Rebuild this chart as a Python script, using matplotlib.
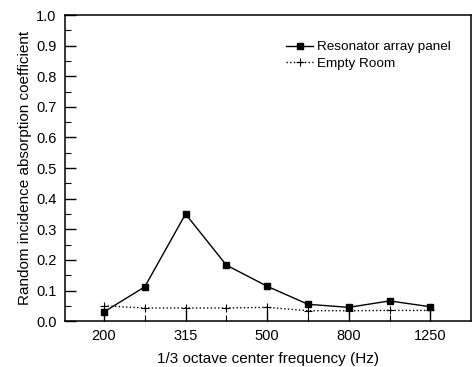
import matplotlib
matplotlib.use("Agg")
import matplotlib.pyplot as plt
from matplotlib.ticker import MultipleLocator

plt.rcParams['font.family'] = ['Liberation Sans', 'DejaVu Sans']

# 1/3 octave bands and measured coefficients
freqs = ['200', '250', '315', '400', '500', '630', '800', '1000', '1250']
panel = [0.03, 0.112, 0.35, 0.183, 0.114, 0.055, 0.045, 0.066, 0.047]
empty_room = [0.05, 0.043, 0.043, 0.043, 0.045, 0.034, 0.034, 0.035, 0.035]

x = list(range(len(freqs)))

fig = plt.figure(figsize=(4.73, 3.67), dpi=100)
ax = fig.add_axes([0.137, 0.125, 0.859, 0.834])

ax.plot(x, panel, '-', color='black', lw=1.0, marker='s', ms=5,
        label='Resonator array panel')
ax.plot(x, empty_room, ':', color='black', lw=1.0, marker='+', ms=6,
        mew=0.8, label='Empty Room')

ax.set_xlim(-0.96, 9.0)
ax.set_ylim(0, 1.0)
ax.set_xticks(x[::2])
ax.set_xticklabels(freqs[::2])
ax.set_xticks(x[1::2], minor=True)
ax.yaxis.set_major_locator(MultipleLocator(0.1))
ax.yaxis.set_minor_locator(MultipleLocator(0.05))
ax.yaxis.set_major_formatter(plt.FormatStrFormatter('%.1f'))

ax.tick_params(which='major', direction='in', length=8, width=1.0,
               labelsize=10.5, pad=6)
ax.tick_params(which='minor', direction='in', length=4, width=0.8)
ax.tick_params(top=False, right=False)

for s in ax.spines.values():
    s.set_linewidth(1.1)

ax.set_xlabel('1/3 octave center frequency (Hz)', fontsize=11, labelpad=6)
ax.set_ylabel('Random incidence absorption coefficient', fontsize=11,
              labelpad=3)

ax.legend(loc='upper right', bbox_to_anchor=(0.98, 0.955), frameon=False,
          fontsize=9.7, handlelength=2.0, handletextpad=0.3, labelspacing=0.3)

fig.savefig('out.png', dpi=100)
